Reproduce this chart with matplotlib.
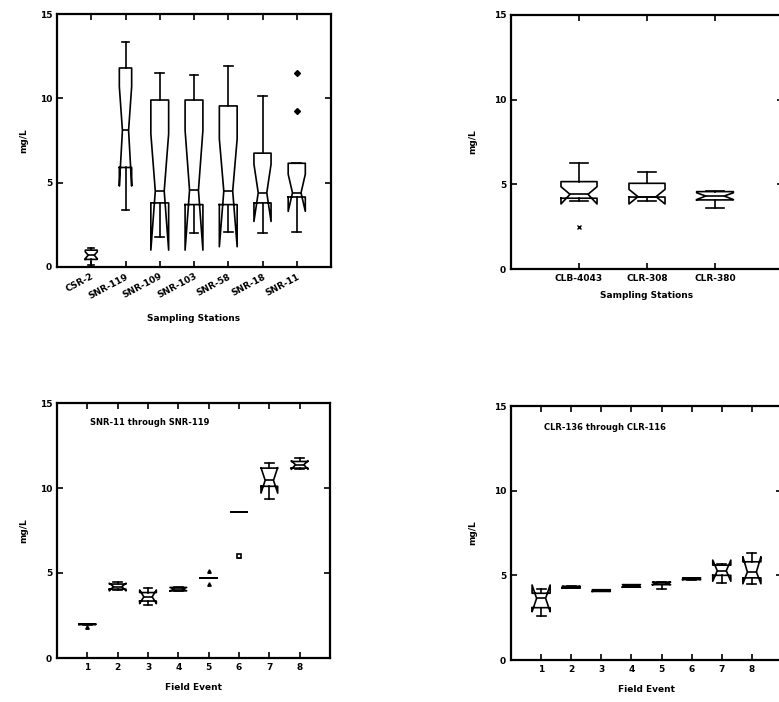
import numpy as np
import matplotlib.pyplot as plt

# ---- top left: stations (notched boxes) ----
tl_labels = ["CSR-2", "SNR-119", "SNR-109", "SNR-103", "SNR-58", "SNR-18", "SNR-11"]
tl_med = [0.7, 8.1, 4.5, 4.55, 4.5, 4.4, 4.4]
tl_q1 = [0.45, 5.9, 3.8, 3.7, 3.7, 3.8, 4.15]
tl_q3 = [1.0, 11.8, 9.9, 9.9, 9.55, 6.75, 6.15]
tl_lo = [0.1, 3.4, 1.8, 2.0, 2.1, 2.0, 2.1]
tl_hi = [1.15, 13.35, 11.5, 11.4, 11.9, 10.15, 6.15]
tl_cilo = [0.5, 4.8, 1.0, 1.0, 1.2, 2.7, 3.3]
tl_cihi = [0.9, 10.7, 7.9, 8.1, 7.6, 6.1, 5.5]
tl_fliers = [[], [], [], [], [], [], [11.5, 9.25]]

# ---- top right ----
tr_labels = ["CLB-4043", "CLR-308", "CLR-380"]
tr_med = [4.41, 4.27, 4.31]
tr_q1 = [4.18, 4.25, 4.08]
tr_q3 = [5.16, 5.06, 4.57]
tr_lo = [4.0, 4.0, 3.59]
tr_hi = [6.24, 5.75, 4.62]
tr_cilo = [3.84, 3.84, 4.1]
tr_cihi = [4.86, 4.7, 4.5]
tr_fliers = [[2.5], [], []]

# ---- bottom left: field events, SNR ----
bl_events = ["1", "2", "3", "4", "5", "6", "7", "8"]
bl_med = [2.0, 4.2, 3.6, 4.05, 4.72, 8.6, 10.45, 11.37]
bl_q1 = [1.97, 4.05, 3.35, 3.95, 4.72, 8.6, 10.1, 11.17]
bl_q3 = [2.0, 4.35, 3.85, 4.15, 4.72, 8.6, 11.17, 11.56]
bl_lo = [1.97, 4.0, 3.1, 3.95, 4.72, 8.6, 9.35, 11.1]
bl_hi = [2.0, 4.48, 4.1, 4.15, 4.72, 8.6, 11.5, 11.76]
bl_cilo = [1.97, 3.95, 3.2, 3.95, 4.72, 8.6, 9.7, 11.1]
bl_cihi = [2.0, 4.4, 4.0, 4.15, 4.72, 8.6, 11.2, 11.6]
bl_fliers = [[1.85], [], [], [], [5.1, 4.35], [6.0], [], []]

# ---- bottom right: field events, CLR ----
br_events = ["1", "2", "3", "4", "5", "6", "7", "8"]
br_med = [3.64, 4.3, 4.1, 4.37, 4.52, 4.8, 5.27, 5.2]
br_q1 = [3.09, 4.25, 4.05, 4.3, 4.45, 4.75, 5.0, 4.85]
br_q3 = [3.94, 4.35, 4.15, 4.45, 4.6, 4.85, 5.6, 5.8]
br_lo = [2.6, 4.25, 4.05, 4.3, 4.2, 4.75, 4.55, 4.5]
br_hi = [4.2, 4.35, 4.15, 4.45, 4.6, 4.85, 5.65, 6.3]
br_cilo = [2.85, 4.25, 4.05, 4.3, 4.45, 4.75, 4.65, 4.5]
br_cihi = [4.43, 4.35, 4.15, 4.45, 4.6, 4.85, 5.9, 6.1]
br_fliers = [[], [], [], [], [], [], [], []]

W, H = 779, 702
FONT = dict(family="DejaVu Sans", weight="bold")


def stats(med, q1, q3, lo, hi, cilo, cihi, fliers):
    out = []
    for m, a, b, l, h, c1, c2, f in zip(med, q1, q3, lo, hi, cilo, cihi, fliers):
        out.append(dict(med=m, q1=a, q3=b, whislo=l, whishi=h,
                        cilo=c1, cihi=c2, fliers=np.array(f)))
    return out


def make_ax(fig, left, right, top, bottom):
    ax = fig.add_axes([left / W, 1 - bottom / H, (right - left) / W, (bottom - top) / H])
    for s in ax.spines.values():
        s.set_linewidth(1.6)
    ax.tick_params(direction="in", top=True, right=True, length=4, width=1.2,
                   labelsize=6.5)
    ax.set_ylim(0, 15)
    ax.set_yticks([0, 5, 10, 15])
    for t in ax.get_yticklabels():
        t.set_fontweight("bold")
    return ax


def draw(ax, st, widths, marker="o", msize=3.5):
    ax.bxp(st, positions=range(1, len(st) + 1), widths=widths, shownotches=True,
           boxprops=dict(color="black", linewidth=1.2),
           medianprops=dict(color="black", linewidth=1.2),
           whiskerprops=dict(color="black", linewidth=1.2),
           capprops=dict(color="black", linewidth=1.2),
           flierprops=dict(marker=marker, markersize=msize, markerfacecolor="black",
                           markeredgecolor="black", linestyle="none"),
           manage_ticks=False)


fig = plt.figure(figsize=(W / 100, H / 100), dpi=100)
fig.patch.set_facecolor("white")

# top left
ax1 = make_ax(fig, 57, 331, 14, 267)
draw(ax1, stats(tl_med, tl_q1, tl_q3, tl_lo, tl_hi, tl_cilo, tl_cihi, tl_fliers),
     [0.35, 0.36, 0.52, 0.52, 0.52, 0.5, 0.5], marker="D", msize=3)
ax1.set_xlim(0, 8)
ax1.set_xticks(range(1, len(tl_labels) + 1))
ax1.set_xticklabels(tl_labels, rotation=28, ha="right", rotation_mode="anchor",
                    fontsize=6.5, fontweight="bold")
ax1.set_xlabel("Sampling Stations", fontsize=6.5, labelpad=10, **FONT)
ax1.set_ylabel("mg/L", fontsize=6.5, labelpad=8, **FONT)

# top right
ax2 = make_ax(fig, 511, 783, 15, 269)
draw(ax2, stats(tr_med, tr_q1, tr_q3, tr_lo, tr_hi, tr_cilo, tr_cihi, tr_fliers),
     [0.53, 0.53, 0.54], marker="x", msize=3.5)
ax2.set_xlim(0, 4)
ax2.set_xticks(range(1, len(tr_labels) + 1))
ax2.set_xticklabels(tr_labels, fontsize=6.5, fontweight="bold")
ax2.set_xlabel("Sampling Stations", fontsize=6.5, labelpad=6, **FONT)
ax2.set_ylabel("mg/L", fontsize=6.5, labelpad=12, **FONT)

# bottom left
ax3 = make_ax(fig, 57, 330, 403, 658)
st3 = stats(bl_med, bl_q1, bl_q3, bl_lo, bl_hi, bl_cilo, bl_cihi, bl_fliers)
draw(ax3, st3, 0.55, marker="^", msize=2.5)
ax3.plot(6, bl_fliers[5][0], marker="s", markersize=3.5, markerfacecolor="white",
         markeredgecolor="black", markeredgewidth=1.2, linestyle="none")
ax3.set_xlim(0, 9)
ax3.set_xticks(range(1, len(bl_events) + 1))
ax3.set_xticklabels(bl_events, fontsize=6.5, fontweight="bold")
ax3.set_xlabel("Field Event", fontsize=6.5, labelpad=8, **FONT)
ax3.set_ylabel("mg/L", fontsize=6.5, labelpad=8, **FONT)
ax3.text(0.12, 0.925, "SNR-11 through SNR-119", transform=ax3.transAxes,
         fontsize=6, ha="left", va="center", **FONT)

# bottom right
ax4 = make_ax(fig, 511, 782, 406, 660)
draw(ax4, stats(br_med, br_q1, br_q3, br_lo, br_hi, br_cilo, br_cihi, br_fliers),
     0.6)
ax4.set_xlim(0, 9)
ax4.set_xticks(range(1, len(br_events) + 1))
ax4.set_xticklabels(br_events, fontsize=6.5, fontweight="bold")
ax4.set_xlabel("Field Event", fontsize=6.5, labelpad=8, **FONT)
ax4.set_ylabel("mg/L", fontsize=6.5, labelpad=12, **FONT)
ax4.text(0.12, 0.915, "CLR-136 through CLR-116", transform=ax4.transAxes,
         fontsize=6, ha="left", va="center", **FONT)

fig.savefig("out.png", dpi=100, facecolor="white")
